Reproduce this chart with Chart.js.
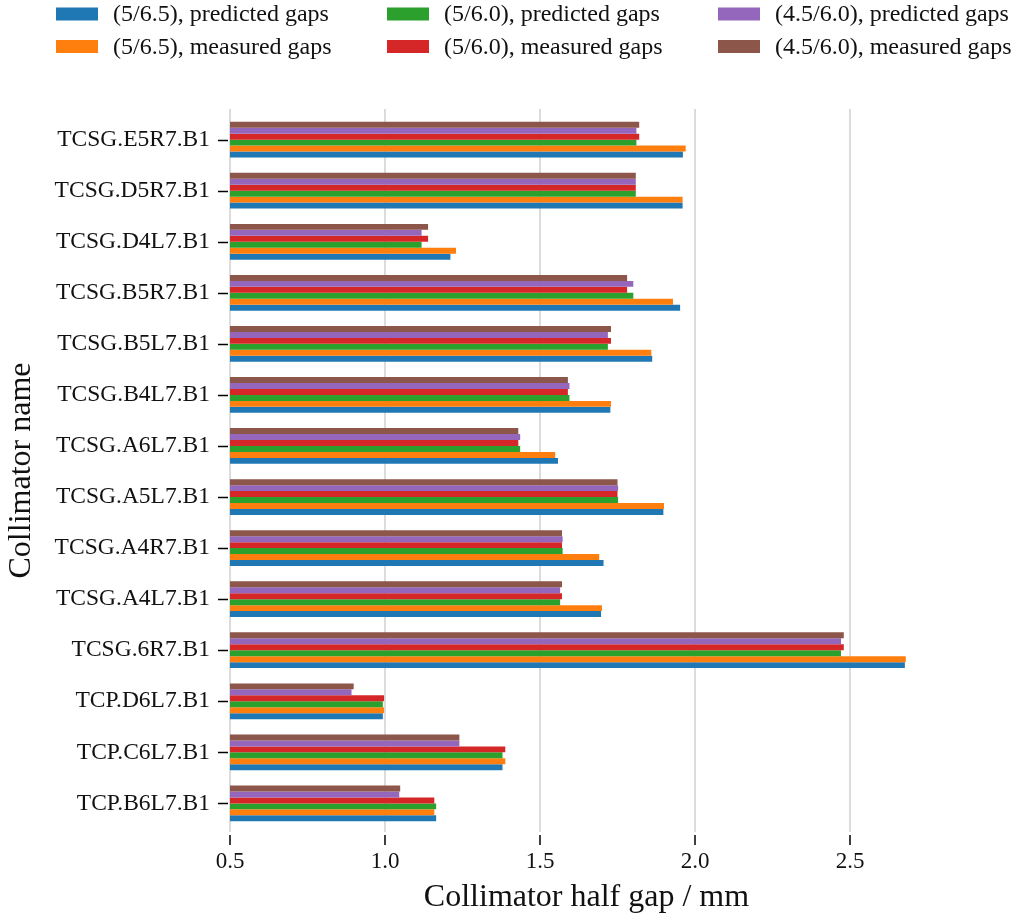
<!DOCTYPE html>
<html>
<head>
<meta charset="utf-8">
<script src="https://cdn.jsdelivr.net/npm/chart.js@4.4.1/dist/chart.umd.min.js"></script>
<style>
  html, body { margin: 0; padding: 0; background: #fff; }
  #wrap { width: 1024px; height: 920px; }
</style>
</head>
<body>
<div id="wrap"><canvas id="gaps-chart" width="1024" height="920"></canvas></div>
<script>
// Коллиматоры — снизу вверх, как на исходном графике
const collimators = [
  'TCP.B6L7.B1', 'TCP.C6L7.B1', 'TCP.D6L7.B1', 'TCSG.6R7.B1',
  'TCSG.A4L7.B1', 'TCSG.A4R7.B1', 'TCSG.A5L7.B1', 'TCSG.A6L7.B1',
  'TCSG.B4L7.B1', 'TCSG.B5L7.B1', 'TCSG.B5R7.B1', 'TCSG.D4L7.B1',
  'TCSG.D5R7.B1', 'TCSG.E5R7.B1',
];

// Полузазоры, мм (тот же порядок)
const pred65   = [1.165, 1.379, 0.993, 2.677, 1.697, 1.705, 1.898, 1.558, 1.727, 1.862, 1.952, 1.211, 1.960, 1.961];
const meas65   = [1.159, 1.388, 0.997, 2.680, 1.700, 1.691, 1.900, 1.549, 1.729, 1.859, 1.929, 1.229, 1.960, 1.970];
const pred60   = [1.165, 1.379, 0.993, 2.471, 1.565, 1.573, 1.752, 1.436, 1.595, 1.719, 1.801, 1.118, 1.809, 1.811];
const meas60   = [1.159, 1.388, 0.997, 2.480, 1.571, 1.571, 1.750, 1.430, 1.590, 1.729, 1.781, 1.139, 1.809, 1.820];
const pred4560 = [1.046, 1.240, 0.892, 2.471, 1.565, 1.573, 1.752, 1.436, 1.595, 1.719, 1.801, 1.118, 1.809, 1.811];
const meas4560 = [1.049, 1.240, 0.899, 2.480, 1.571, 1.571, 1.750, 1.430, 1.590, 1.729, 1.781, 1.139, 1.809, 1.820];

const seriesValues = [pred65, meas65, pred60, meas60, pred4560, meas4560];
const seriesLabels = [
  '(5/6.5), predicted gaps', '(5/6.5), measured gaps',
  '(5/6.0), predicted gaps', '(5/6.0), measured gaps',
  '(4.5/6.0), predicted gaps', '(4.5/6.0), measured gaps',
];
const seriesColors = ['#1f77b4', '#ff7f0e', '#2ca02c', '#d62728', '#9467bd', '#8c564b'];
const xTicks = [0.5, 1.0, 1.5, 2.0, 2.5];

const FONT = "'Liberation Serif', 'DejaVu Serif', serif";
const INK  = '#111';

// ── Легенда: 3 колонки × 2 строки, как в matplotlib ──────────────
const gridLegend = {
  id: 'gridLegend',
  afterDraw(chart) {
    const ctx = chart.ctx;
    ctx.save();
    ctx.font = `24px ${FONT}`;
    ctx.textBaseline = 'middle';
    seriesLabels.forEach((label, i) => {
      const col = Math.floor(i / 2), row = i % 2;
      const x = 56 + col * 331, y = 14 + row * 32.5;
      ctx.fillStyle = seriesColors[i];
      ctx.fillRect(x, y - 6.5, 42, 13);
      ctx.fillStyle = INK;
      ctx.fillText(label, x + 57, y + 1);
    });
    ctx.restore();
  },
};

// ── Чёрные засечки осей (с отступом от области графика) ──────────
const tickMarks = {
  id: 'tickMarks',
  afterDraw(chart) {
    const { ctx, chartArea, scales: { x, y } } = chart;
    ctx.save();
    ctx.strokeStyle = '#000';
    ctx.lineWidth = 1.5;
    ctx.beginPath();
    xTicks.forEach(v => {
      const px = x.getPixelForValue(v);
      ctx.moveTo(px, chartArea.bottom + 3);
      ctx.lineTo(px, chartArea.bottom + 13);
    });
    collimators.forEach((_, i) => {
      const py = Math.round(y.getPixelForValue(i)) + 0.5;
      ctx.moveTo(chartArea.left - 12, py);
      ctx.lineTo(chartArea.left - 2, py);
    });
    ctx.stroke();
    ctx.restore();
  },
};

// Наборы в обратном порядке, чтобы синий оказался внизу группы
const datasets = seriesValues.map((vals, i) => ({
  label: seriesLabels[i],
  data: vals.map((v, k) => ({ x: v, y: k })),
  backgroundColor: seriesColors[i],
  borderWidth: 0,
  categoryPercentage: 0.7,
  barPercentage: 1.0,
})).reverse();

new Chart(document.getElementById('gaps-chart'), {
  type: 'bar',
  data: { datasets },
  plugins: [gridLegend, tickMarks],
  options: {
    indexAxis: 'y',
    responsive: false,
    animation: false,
    layout: { padding: { top: 109, right: 81, left: 0, bottom: 0 } },
    plugins: { legend: { display: false }, tooltip: { enabled: false } },
    scales: {
      x: {
        type: 'linear',
        min: 0.5,
        max: 2.8,
        bounds: 'data',
        z: 1,
        afterBuildTicks: s => { s.ticks = xTicks.map(v => ({ value: v })); },
        afterFit: s => { s.height = 88; },
        ticks: {
          callback: v => Number(v).toFixed(1),
          font: { family: FONT, size: 23 },
          color: INK,
          padding: 4,
          maxRotation: 0,
        },
        grid: {
          color: '#dcdcdc',
          lineWidth: 2,
          tickLength: 12,
          tickColor: 'rgba(0,0,0,0)',
        },
        border: { display: false },
        title: {
          display: true,
          text: 'Collimator half gap / mm',
          font: { family: FONT, size: 32 },
          color: INK,
          padding: { top: 0, bottom: 3 },
        },
      },
      y: {
        type: 'linear',
        min: -0.56,
        max: 13.6,
        bounds: 'data',
        offset: false,
        afterBuildTicks: s => { s.ticks = collimators.map((_, i) => ({ value: i })); },
        afterFit: s => { s.width = 230; },
        ticks: {
          callback: v => collimators[v],
          font: { family: FONT, size: 23.5 },
          color: INK,
          padding: 9,
          autoSkip: false,
        },
        grid: {
          offset: false,
          drawOnChartArea: false,
          tickLength: 11,
          tickColor: 'rgba(0,0,0,0)',
        },
        border: { display: false },
        title: {
          display: true,
          text: 'Collimator name',
          font: { family: FONT, size: 32 },
          color: INK,
          padding: { top: 2, bottom: 0 },
        },
      },
    },
  },
});
</script>
</body>
</html>
